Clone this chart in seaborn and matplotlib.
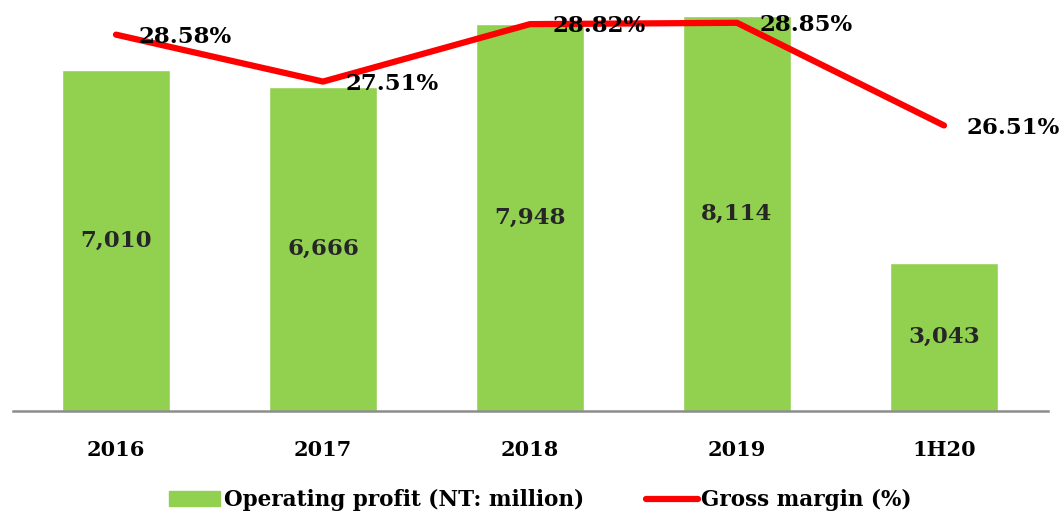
import numpy as np
import seaborn as sns
import matplotlib.pyplot as plt
from matplotlib.patches import Patch
from matplotlib.lines import Line2D

periods = ["2016", "2017", "2018", "2019", "1H20"]
op_profit = [7010, 6666, 7948, 8114, 3043]
gross_margin = [28.58, 27.51, 28.82, 28.85, 26.51]
profit_labels = ["7,010", "6,666", "7,948", "8,114", "3,043"]
margin_labels = ["28.58%", "27.51%", "28.82%", "28.85%", "26.51%"]

sns.set_style("white")
plt.rcParams['font.family'] = ['DejaVu Serif']
plt.rcParams['font.weight'] = 'bold'
plt.rcParams['text.color'] = 'black'
plt.rcParams['xtick.color'] = 'black'

green = "#92D050"
red = "#FF0000"

fig = plt.figure(figsize=(10.61, 5.19), dpi=100)
ax = fig.add_axes([12.5 / 1061, 108 / 519, 1035 / 1061, 411 / 519])

sns.barplot(x=periods, y=op_profit, color=green, saturation=1, width=0.52, ax=ax)
ax.set_xlim(-0.5, 4.5)
ax.set_ylim(0, 8450)

for i, (v, lab) in enumerate(zip(op_profit, profit_labels)):
    ax.text(i, v / 2, lab, ha="center", va="center", fontsize=16.5,
            fontweight="bold", color="#262626")

ax2 = ax.twinx()
sns.lineplot(x=np.arange(len(periods)), y=gross_margin, color=red, lw=4.5,
             sort=False, ax=ax2, solid_capstyle="round")
ax2.set_ylim(20.0, 29.37)
ax2.set_xlim(-0.5, 4.5)

for i, (v, lab) in enumerate(zip(gross_margin, margin_labels)):
    ax2.annotate(lab, (i, v), xytext=(16, -1.5), textcoords="offset points",
                 ha="left", va="center", fontsize=16.5, fontweight="bold",
                 color="black")

for a in (ax, ax2):
    for s in ("top", "left", "right"):
        a.spines[s].set_visible(False)
    a.set_yticks([])
    a.set_ylabel("")
ax2.spines["bottom"].set_visible(False)
ax.spines["bottom"].set_color("#8c8c8c")
ax.spines["bottom"].set_linewidth(1.8)
ax.tick_params(axis="x", length=0, pad=21, labelsize=15, labelcolor="black")
for t in ax.get_xticklabels():
    t.set_fontweight("bold")

handles = [Patch(facecolor=green, edgecolor=green),
           Line2D([0], [0], color=red, lw=4.5)]
leg = fig.legend(handles, ["Operating profit (NT: million)", "Gross margin (%)"],
                 loc="center", bbox_to_anchor=(0.509, 19 / 519), ncol=2, frameon=False,
                 prop={"size": 15.5, "weight": "bold"}, handlelength=2.4,
                 handletextpad=0.15, columnspacing=2.9)
for t in leg.get_texts():
    t.set_color("black")

fig.savefig("out.png", dpi=100)
